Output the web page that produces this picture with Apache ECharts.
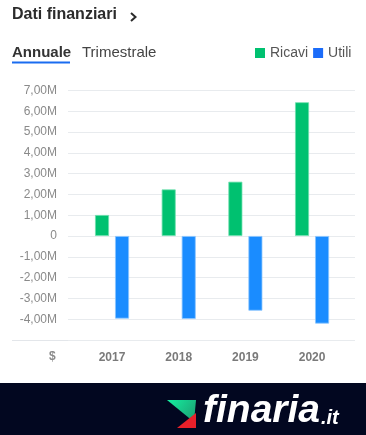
<!DOCTYPE html>
<html><head><meta charset="utf-8">
<script src="https://cdn.jsdelivr.net/npm/echarts@6/dist/echarts.min.js"></script>
<style>html,body{margin:0;padding:0;background:#fff}#c{width:366px;height:435px}</style>
</head><body><div id="c"></div>
<script>
var years = ['2017', '2018', '2019', '2020'];
var ricavi = [1.01, 2.24, 2.61, 6.43];
var utili = [-3.97, -3.99, -3.59, -4.21];
var yMin = -5, yMax = 7, yStep = 1;

var chart = echarts.init(document.getElementById('c'), null, {renderer: 'canvas'});
var font = 'Arial, "Liberation Sans", sans-serif';
var top0 = 90.4, h0 = 249.6;
chart.setOption({
  animation: false,
  textStyle: {fontFamily: font},
  legend: {
    left: 255, top: 46, itemWidth: 10, itemHeight: 10, itemGap: 5, padding: 0,
    icon: 'rect',
    itemStyle: {borderWidth: 0},
    textStyle: {fontSize: 14, color: '#555', fontFamily: font},
    data: [{name: 'Ricavi', itemStyle: {color: '#00c170', borderWidth: 0}}, {name: 'Utili', itemStyle: {color: '#1b6cf9', borderWidth: 0}}]
  },
  grid: [
    {left: 68, right: 11, top: top0, height: h0},
    {left: 78.7, width: 266.7, top: top0, height: h0}
  ],
  xAxis: [
    {gridIndex: 0, type: 'category', data: years, show: false},
    {gridIndex: 1, type: 'category', data: years,
     axisLine: {show: false}, axisTick: {show: false}, splitLine: {show: false},
     axisLabel: {margin: 12, color: '#7a7a7a', fontSize: 12, fontWeight: 'bold', fontFamily: font}}
  ],
  yAxis: [
    {gridIndex: 0, type: 'value', min: yMin, max: yMax, interval: yStep,
     axisLine: {show: false}, axisTick: {show: false},
     splitLine: {lineStyle: {color: '#e8ebee', width: 1}},
     axisLabel: {margin: 11, color: '#8a8a8a', fontSize: 12, fontFamily: font,
       formatter: function (v) { if (v === yMin) return ''; if (v === 0) return '0'; return v.toFixed(2).replace('.', ',') + 'M'; }}},
    {gridIndex: 1, type: 'value', min: yMin, max: yMax, interval: yStep, show: false}
  ],
  series: [
    {name: 'Ricavi', type: 'bar', xAxisIndex: 1, yAxisIndex: 1, data: ricavi, barWidth: 14, barGap: '43%',
     itemStyle: {color: '#00c170', borderColor: '#6ee0ad', borderWidth: 0.8}},
    {name: 'Utili', type: 'bar', xAxisIndex: 1, yAxisIndex: 1, data: utili, barWidth: 14, barGap: '43%',
     itemStyle: {color: '#1a8cff', borderColor: '#8cc6ff', borderWidth: 0.8}}
  ],
  graphic: [
    {type: 'text', left: 12, top: 7, style: {text: 'Dati finanziari', fontSize: 16, fontWeight: 'bold', fill: '#2b2b2b', fontFamily: font}},
    {type: 'polyline', shape: {points: [[131, 13], [135.5, 17], [131, 21]]}, style: {stroke: '#2b2b2b', lineWidth: 2, fill: null}},
    {type: 'text', left: 12, top: 45, style: {text: 'Annuale', fontSize: 15, fontWeight: 'bold', fill: '#333', fontFamily: font}},
    {type: 'rect', shape: {x: 12, y: 61.5, width: 58, height: 2}, style: {fill: '#1a6cf0'}},
    {type: 'text', left: 82, top: 45, style: {text: 'Trimestrale', fontSize: 15, fill: '#444', fontFamily: font}},
    {type: 'line', shape: {x1: 12, y1: 340.5, x2: 355, y2: 340.5}, style: {stroke: '#e3e6ea', lineWidth: 1}},
    {type: 'text', left: 49, top: 351, style: {text: '$', fontSize: 12, fontWeight: 'bold', fill: '#8a8a8a', fontFamily: font}},
    {type: 'rect', shape: {x: 0, y: 383, width: 366, height: 52}, style: {fill: '#020720'}},
    {type: 'polygon', shape: {points: [[167, 400], [196, 400], [194, 422]]},
     style: {fill: new echarts.graphic.LinearGradient(0, 0, 1, 1, [{offset: 0, color: '#14f0a0'}, {offset: 1, color: '#1c9a70'}])}},
    {type: 'polygon', shape: {points: [[177, 428], [196, 428], [196, 413]]}, style: {fill: '#e8202a'}},
    {type: 'text', left: 203, top: 392, style: {text: 'finaria', fontSize: 39, fontWeight: 'bold', fontStyle: 'italic', fill: '#ffffff', fontFamily: font}},
    {type: 'text', left: 321, top: 408, style: {text: '.it', fontSize: 20, fontWeight: 'bold', fontStyle: 'italic', fill: '#ffffff', fontFamily: font}}
  ]
});
</script></body></html>
